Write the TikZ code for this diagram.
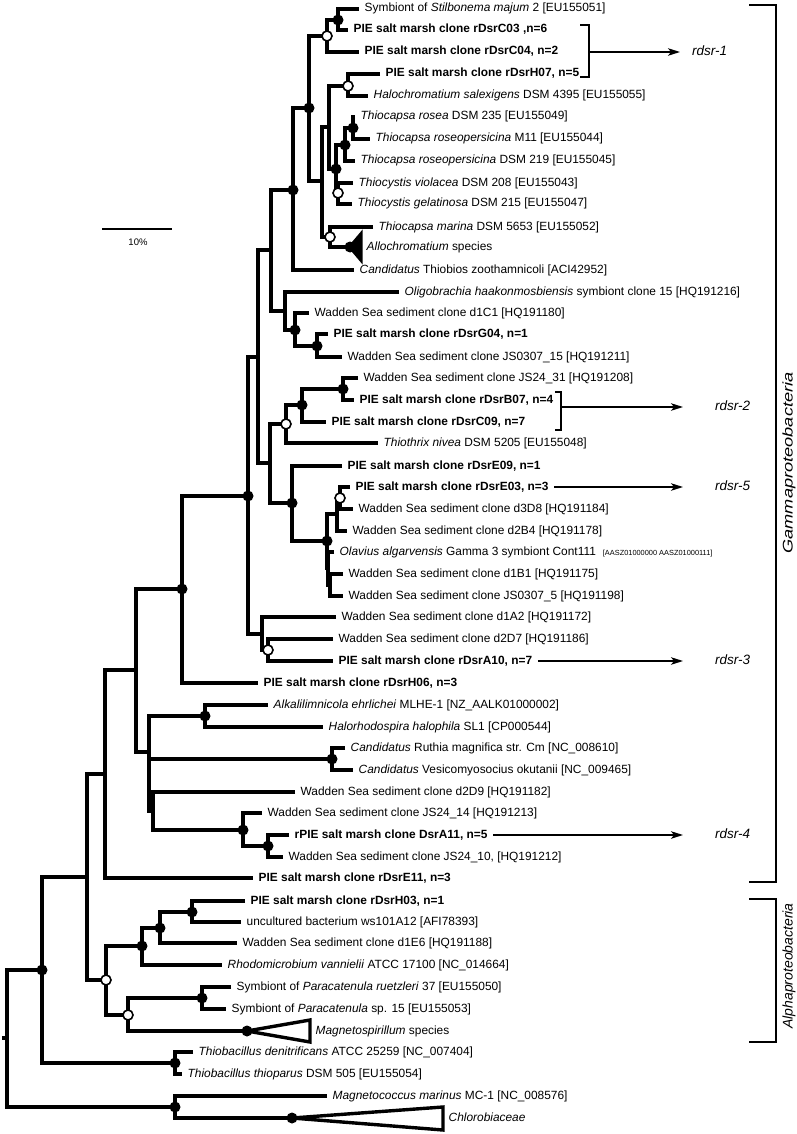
\documentclass[tikz,border=0pt]{standalone}
\usepackage{fontspec}
\setmainfont{Liberation Sans}
\setsansfont{Liberation Sans}
\usetikzlibrary{arrows.meta}

\begin{document}
\begin{tikzpicture}[x=1pt, y=-1pt,
    branch/.style={line width=4.2pt, line join=miter},
    clade/.style={line width=3.4pt, line join=miter},
    leaf/.style={anchor=west, inner xsep=5.5pt, inner ysep=0pt, font=\fontsize{11.9}{13}\selectfont, text height=8.5pt, text depth=2.5pt},
    fdot/.style={circle, fill=black, inner sep=0pt, minimum size=11pt},
    odot/.style={circle, draw=black, fill=white, line width=1.6pt, inner sep=0pt, minimum size=10pt},
    bracket/.style={line width=2pt},
    arr/.style={line width=1.4pt, -{Stealth[length=12pt, width=7.5pt, inset=3pt]}},
    clus/.style={anchor=west, inner sep=0pt, font=\fontsize{13.5}{15}\selectfont\itshape, text height=9.5pt, text depth=3pt},
    group/.style={rotate=90, inner sep=0pt, font=\fontsize{14}{16}\selectfont\itshape}]
    \useasboundingbox (0,0) rectangle (797,1134);

    %%%%% leaves, Gammaproteobacteria %%%%%
    \node(l01) [leaf] at (359,9)   {Symbiont of \textit{Stilbonema majum} 2 [EU155051]};
    \node(l02) [leaf] at (348,30)  {\textbf{PIE salt marsh clone rDsrC03 ,n=6}};
    \node(l03) [leaf] at (359,52)  {\textbf{PIE salt marsh clone rDsrC04, n=2}};
    \node(l04) [leaf] at (380,74)  {\textbf{PIE salt marsh clone rDsrH07, n=5}};
    \node(l05) [leaf] at (368,96)  {\textit{Halochromatium salexigens} DSM 4395 [EU155055]};
    \node(l06) [leaf] at (355,117) {\textit{Thiocapsa rosea} DSM 235 [EU155049]};
    \node(l07) [leaf] at (370,139) {\textit{Thiocapsa roseopersicina} M11 [EU155044]};
    \node(l08) [leaf] at (355,161) {\textit{Thiocapsa roseopersicina} DSM 219 [EU155045]};
    \node(l09) [leaf] at (353,183) {\textit{Thiocystis violacea} DSM 208 [EU155043]};
    \node(l10) [leaf] at (352,204) {\textit{Thiocystis gelatinosa} DSM 215 [EU155047]};
    \node(l11) [leaf] at (373,227) {\textit{Thiocapsa marina} DSM 5653 [EU155052]};
    \node(l12) [leaf] at (361,247) {\textit{Allochromatium} species};
    \node(l13) [leaf] at (354,270) {\textit{Candidatus} Thiobios zoothamnicoli [ACI42952]};
    \node(l14) [leaf] at (399,292) {\textit{Oligobrachia haakonmosbiensis} symbiont clone 15 [HQ191216]};
    \node(l15) [leaf] at (309,313) {Wadden Sea sediment clone d1C1 [HQ191180]};
    \node(l16) [leaf] at (328,334) {\textbf{PIE salt marsh clone rDsrG04, n=1}};
    \node(l17) [leaf] at (342,357) {Wadden Sea sediment clone JS0307\_15 [HQ191211]};
    \node(l18) [leaf] at (358,378) {Wadden Sea sediment clone JS24\_31 [HQ191208]};
    \node(l19) [leaf] at (354,400) {\textbf{PIE salt marsh clone rDsrB07, n=4}};
    \node(l20) [leaf] at (326,422) {\textbf{PIE salt marsh clone rDsrC09, n=7}};
    \node(l21) [leaf] at (378,443) {\textit{Thiothrix nivea} DSM 5205 [EU155048]};
    \node(l22) [leaf] at (342,466) {\textbf{PIE salt marsh clone rDsrE09, n=1}};
    \node(l23) [leaf] at (350,487) {\textbf{PIE salt marsh clone rDsrE03, n=3}};
    \node(l24) [leaf] at (353,509) {Wadden Sea sediment clone d3D8 [HQ191184]};
    \node(l25) [leaf] at (347,531) {Wadden Sea sediment clone d2B4 [HQ191178]};
    \node(l26) [leaf] at (334,552) {\textit{Olavius algarvensis} Gamma 3 symbiont Cont111\hspace{7pt}{\fontsize{7.4}{8}\selectfont [AASZ01000000 AASZ01000111]}};
    \node(l27) [leaf] at (343,574) {Wadden Sea sediment clone d1B1 [HQ191175]};
    \node(l28) [leaf] at (343,596) {Wadden Sea sediment clone JS0307\_5 [HQ191198]};
    \node(l29) [leaf] at (336,617) {Wadden Sea sediment clone d1A2 [HQ191172]};
    \node(l30) [leaf] at (333,639) {Wadden Sea sediment clone d2D7 [HQ191186]};
    \node(l31) [leaf] at (333,661) {\textbf{PIE salt marsh clone rDsrA10, n=7}};
    \node(l32) [leaf] at (258,683) {\textbf{PIE salt marsh clone rDsrH06, n=3}};
    \node(l33) [leaf] at (268,705) {\textit{Alkalilimnicola ehrlichei} MLHE-1 [NZ\_AALK01000002]};
    \node(l34) [leaf] at (323,727) {\textit{Halorhodospira halophila} SL1 [CP000544]};
    \node(l35) [leaf] at (345,748) {\textit{Candidatus} Ruthia magnifica str. Cm [NC\_008610]};
    \node(l36) [leaf] at (353,770) {\textit{Candidatus} Vesicomyosocius okutanii [NC\_009465]};
    \node(l37) [leaf] at (295,792) {Wadden Sea sediment clone d2D9 [HQ191182]};
    \node(l38) [leaf] at (262,813) {Wadden Sea sediment clone JS24\_14 [HQ191213]};
    \node(l39) [leaf] at (289,835) {\textbf{rPIE salt marsh clone DsrA11, n=5}};
    \node(l40) [leaf] at (283,857) {Wadden Sea sediment clone JS24\_10, [HQ191212]};
    \node(l41) [leaf] at (253,878) {\textbf{PIE salt marsh clone rDsrE11, n=3}};

    %%%%% leaves, Alphaproteobacteria and outgroups %%%%%
    \node(l42) [leaf] at (245,901)  {\textbf{PIE salt marsh clone rDsrH03, n=1}};
    \node(l43) [leaf] at (241,922)  {uncultured bacterium ws101A12 [AFI78393]};
    \node(l44) [leaf] at (237,943)  {Wadden Sea sediment clone d1E6 [HQ191188]};
    \node(l45) [leaf] at (222,965)  {\textit{Rhodomicrobium vannielii} ATCC 17100 [NC\_014664]};
    \node(l46) [leaf] at (231,987)  {Symbiont of \textit{Paracatenula ruetzleri} 37 [EU155050]};
    \node(l47) [leaf] at (226,1009) {Symbiont of \textit{Paracatenula} sp. 15 [EU155053]};
    \node(l48) [leaf] at (310,1031) {\textit{Magnetospirillum} species};
    \node(l49) [leaf] at (193,1052) {\textit{Thiobacillus denitrificans} ATCC 25259 [NC\_007404]};
    \node(l50) [leaf] at (182,1074) {\textit{Thiobacillus thioparus} DSM 505 [EU155054]};
    \node(l51) [leaf] at (327,1096) {\textit{Magnetococcus marinus} MC-1 [NC\_008576]};
    \node(l52) [leaf] at (443,1118) {\textit{Chlorobiaceae}};

    %%%%% inner nodes %%%%%
    \coordinate(nA) at (338,20);
    \coordinate(nB) at (327,36);
    \coordinate(nC) at (348,86);
    \coordinate(nD) at (353,128);
    \coordinate(nE) at (345,145);
    \coordinate(nG) at (338,193);
    \coordinate(nF) at (336,169);
    \coordinate(nI) at (329,127);
    \coordinate(nH) at (330,237);
    \coordinate(t12) at (350,247);
    \coordinate(nJ) at (322,181);
    \coordinate(nL) at (309,108);
    \coordinate(nM) at (293,190);
    \coordinate(nQ) at (317,346);
    \coordinate(nP) at (295,330);
    \coordinate(nO) at (285,311);
    \coordinate(nN) at (271,250);
    \coordinate(nU) at (343,389);
    \coordinate(nT) at (302,405);
    \coordinate(nS) at (286,424);
    \coordinate(nX) at (340,498);
    \coordinate(nY) at (337,514);
    \coordinate(nZ) at (330,585);
    \coordinate(nW2) at (328,568);
    \coordinate(nW) at (327,541);
    \coordinate(nV) at (292,503);
    \coordinate(nR) at (270,463);
    \coordinate(nAA) at (258,357);
    \coordinate(nCC2) at (268,650);
    \coordinate(nCC) at (262,634);
    \coordinate(nBB) at (248,496);
    \coordinate(nDD) at (182,589);
    \coordinate(nGG) at (205,716);
    \coordinate(nHH) at (332,759);
    \coordinate(nJJ) at (268,846);
    \coordinate(nII) at (243,830);
    \coordinate(nKK) at (153,811);
    \coordinate(nFF) at (149,752);
    \coordinate(nEE) at (136,670);
    \coordinate(nLL) at (105,774);
    \coordinate(nTT) at (192,912);
    \coordinate(nSS) at (160,928);
    \coordinate(nRR) at (142,946);
    \coordinate(nVV) at (202,998);
    \coordinate(t48) at (247,1031);
    \coordinate(nUU) at (128,1015);
    \coordinate(nQQ) at (106,980);
    \coordinate(nMM) at (87,877);
    \coordinate(nOO) at (175,1063);
    \coordinate(nNN) at (42,970);
    \coordinate(t52) at (292,1118);
    \coordinate(nPP) at (175,1107);
    \coordinate(root) at (7,1038);
    \coordinate(stub) at (2,1038);

    %%%%% branches %%%%%
    % purple sulfur bacteria
    \draw[branch] (l01.west) -| (nA) |- (l02.west);
    \draw[branch] (nA) -| (nB) |- (l03.west);
    \draw[branch] (l04.west) -| (nC) |- (l05.west);
    \draw[branch] (l06.west) -| (nD) |- (l07.west);
    \draw[branch] (nD) -| (nE) |- (l08.west);
    \draw[branch] (l09.west) -| (nG) |- (l10.west);
    \draw[branch] (nE) -| (nF) |- (nG);
    \draw[branch] (nC) -| (nI) |- (nF);
    \draw[branch] (l11.west) -| (nH) |- (t12);
    \draw[clade, fill=black] (t12) -- ++(11,-13) -- ++(0,26) -- cycle;
    \draw[branch] (nI) -| (nJ) |- (nH);
    \draw[branch] (nB) -| (nL) |- (nJ);
    \draw[branch] (nL) -| (nM) |- (l13.west);
    % Oligobrachia group
    \draw[branch] (l16.west) -| (nQ) |- (l17.west);
    \draw[branch] (l15.west) -| (nP) |- (nQ);
    \draw[branch] (l14.west) -| (nO) |- (nP);
    \draw[branch] (nM) -| (nN) |- (nO);
    % rdsr-2
    \draw[branch] (l18.west) -| (nU) |- (l19.west);
    \draw[branch] (nU) -| (nT) |- (l20.west);
    \draw[branch] (nT) -| (nS) |- (l21.west);
    % rdsr-5
    \draw[branch] (l23.west) -| (nX) |- (l24.west);
    \draw[branch] (nX) -| (nY) |- (l25.west);
    \draw[branch] (l27.west) -| (nZ) |- (l28.west);
    \draw[branch] (l26.west) -| (nW2) |- (nZ);
    \draw[branch] (nY) -| (nW) |- (nW2);
    \draw[branch] (l22.west) -| (nV) |- (nW);
    \draw[branch] (nS) -| (nR) |- (nV);
    \draw[branch] (nN) -| (nAA) |- (nR);
    % rdsr-3
    \draw[branch] (l30.west) -| (nCC2) |- (l31.west);
    \draw[branch] (l29.west) -| (nCC) |- (nCC2);
    \draw[branch] (nAA) -| (nBB) |- (nCC);
    \draw[branch] (nBB) -| (nDD) |- (l32.west);
    % rdsr-4 and others
    \draw[branch] (l33.west) -| (nGG) |- (l34.west);
    \draw[branch] (l35.west) -| (nHH) |- (l36.west);
    \draw[branch] (l39.west) -| (nJJ) |- (l40.west);
    \draw[branch] (l38.west) -| (nII) |- (nJJ);
    \draw[branch] (l37.west) -| (nKK) |- (nII);
    \draw[branch] (nGG) -| (nFF) |- (nKK);
    \draw[branch] (nFF) |- (nHH);
    \draw[branch] (nDD) -| (nEE) |- (nFF);
    \draw[branch] (nEE) -| (nLL) |- (l41.west);
    % Alphaproteobacteria
    \draw[branch] (l42.west) -| (nTT) |- (l43.west);
    \draw[branch] (nTT) -| (nSS) |- (l44.west);
    \draw[branch] (nSS) -| (nRR) |- (l45.west);
    \draw[branch] (l46.west) -| (nVV) |- (l47.west);
    \draw[branch] (nVV) -| (nUU) |- (t48);
    \draw[clade] (t48) -- ++(63,-11) -- ++(0,22) -- cycle;
    \draw[branch] (nRR) -| (nQQ) |- (nUU);
    \draw[branch] (nLL) -| (nMM) |- (nQQ);
    % outgroups
    \draw[branch] (l49.west) -| (nOO) |- (l50.west);
    \draw[branch] (nMM) -| (nNN) |- (nOO);
    \draw[branch] (l51.west) -| (nPP) |- (t52);
    \draw[clade] (t52) -- ++(151,-11) -- ++(0,23) -- cycle;
    \draw[branch] (nNN) -| (root) |- (nPP);
    \draw[branch] (stub) -- (root);

    %%%%% support values %%%%%
    \node(dA) [fdot] at (nA) {};
    \node(dB) [odot] at (nB) {};
    \node(dC) [odot] at (nC) {};
    \node(dD) [fdot] at (nD) {};
    \node(dE) [fdot] at (nE) {};
    \node(dF) [fdot] at (nF) {};
    \node(dG) [odot] at (nG) {};
    \node(dH) [odot] at (nH) {};
    \node(d12) [fdot] at (t12) {};
    \node(dL) [fdot] at (nL) {};
    \node(dM) [fdot] at (nM) {};
    \node(dQ) [fdot] at (nQ) {};
    \node(dP) [fdot] at (nP) {};
    \node(dU) [fdot] at (nU) {};
    \node(dT) [fdot] at (nT) {};
    \node(dS) [odot] at (nS) {};
    \node(dX) [odot] at (nX) {};
    \node(dW) [fdot] at (nW) {};
    \node(dV) [fdot] at (nV) {};
    \node(dCC2) [odot] at (nCC2) {};
    \node(dBB) [fdot] at (nBB) {};
    \node(dDD) [fdot] at (nDD) {};
    \node(dGG) [fdot] at (nGG) {};
    \node(dHH) [fdot] at (nHH) {};
    \node(dJJ) [fdot] at (nJJ) {};
    \node(dII) [fdot] at (nII) {};
    \node(dTT) [fdot] at (nTT) {};
    \node(dSS) [fdot] at (nSS) {};
    \node(dRR) [fdot] at (nRR) {};
    \node(dVV) [fdot] at (nVV) {};
    \node(dUU) [odot] at (nUU) {};
    \node(d48) [fdot] at (t48) {};
    \node(dQQ) [odot] at (nQQ) {};
    \node(dOO) [fdot] at (nOO) {};
    \node(dNN) [fdot] at (nNN) {};
    \node(dPP) [fdot] at (nPP) {};
    \node(d52) [fdot] at (t52) {};

    %%%%% rdsr clusters %%%%%
    \node(r1) [clus] at (692,52)  {rdsr-1};
    \node(r2) [clus] at (715,407) {rdsr-2};
    \node(r5) [clus] at (715,487) {rdsr-5};
    \node(r3) [clus] at (715,661) {rdsr-3};
    \node(r4) [clus] at (715,835) {rdsr-4};

    \coordinate(b1t) at (580,25);
    \coordinate(b1b) at (580,77);
    \coordinate(b1m) at (589,52);
    \coordinate(b2t) at (555,392);
    \coordinate(b2b) at (555,430);
    \coordinate(b2m) at (561,407);

    \draw[bracket] (b1t) -| (b1m) |- (b1b);
    \draw[bracket] (b2t) -| (b2m) |- (b2b);
    \draw[arr, shorten >=12pt] (b1m) -- (r1.west);
    \draw[arr, shorten >=32pt] (b2m) -- (r2.west);
    \draw[arr, shorten >=32pt] (l23.east) -- (r5.west);
    \draw[arr, shorten >=32pt] (l31.east) -- (r3.west);
    \draw[arr, shorten >=32pt] (l39.east) -- (r4.west);

    %%%%% classes %%%%%
    \coordinate(gt) at (749,5);
    \coordinate(gb) at (749,882);
    \coordinate(at) at (749,899);
    \coordinate(ab) at (749,1042);
    \draw[bracket] (gt) -- ++(27,0) |- (gb);
    \draw[bracket] (at) -- ++(27,0) |- (ab);
    \node(gam) [group, xscale=1.3] at (789,463) {Gammaproteobacteria};
    \node(alp) [group] at (789,966) {Alphaproteobacteria};

    % scale bar
    \coordinate(s0) at (102,229);
    \coordinate(s1) at (172,229);
    \draw[line width=2pt] (s0) -- (s1);
    \node(sc) [font=\fontsize{9.5}{11}\selectfont] at (138,242) {10\%};

  \end{tikzpicture}
\end{document}
